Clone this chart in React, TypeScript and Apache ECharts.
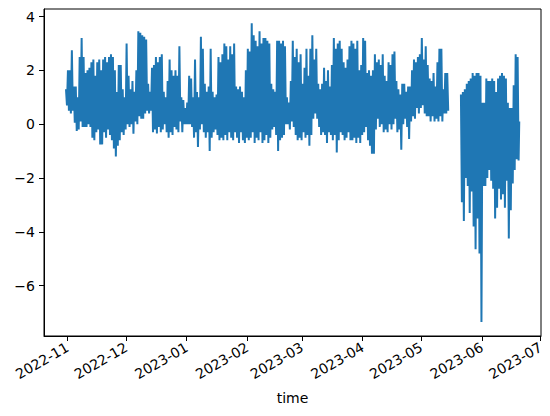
import React, { useEffect, useRef } from "react";
import * as echarts from "echarts";

// Daily envelope, one entry per day starting 2022-10-31.
// null = no data (gap in the record).
const dailyHigh: (number | null)[] = [
  // Oct 31
  1.3,
  // Nov
  2.0, 2.0, 2.75, 1.4, 1.4, 1.0, 2.5, 3.2, 2.5, 1.9,
  2.0, 2.1, 2.3, 2.4, 1.8, 2.3, 2.4, 2.0, 2.4, 2.5,
  2.3, 2.5, 2.6, 2.5, 2.0, 1.2, 2.2, 2.2, 1.3, 1.0,
  // Dec
  3.0, 1.8, 1.3, 1.6, 1.2, 2.0, 3.45, 3.4, 3.3, 3.25,
  3.15, 1.5, 1.2, 2.1, 2.2, 2.5, 2.3, 2.5, 2.6, 1.2,
  1.0, 1.6, 2.4, 2.0, 1.8, 2.0, 1.8, 2.9, 1.0, 0.9,
  0.6,
  // Jan
  0.8, 1.8, 1.7, 1.0, 2.4, 1.2, 1.0, 3.25, 2.8, 1.5,
  1.2, 1.4, 2.8, 1.2, 1.0, 1.1, 2.5, 2.3, 2.6, 3.0,
  2.9, 2.4, 2.9, 2.6, 3.0, 1.4, 1.3, 1.4, 1.2, 1.0,
  2.0,
  // Feb
  2.8, 2.7, 3.75, 3.3, 3.1, 2.9, 3.45, 3.0, 3.2, 3.2,
  3.1, 3.0, 1.5, 1.3, 1.2, 3.1, 3.1, 3.0, 3.1, 2.9,
  1.0, 0.8, 1.6, 3.1, 2.5, 2.8, 2.3, 2.6,
  // Mar
  1.5, 2.1, 2.8, 1.8, 2.8, 3.3, 2.4, 2.8, 1.5, 1.3,
  1.5, 2.1, 1.6, 2.0, 1.4, 2.2, 3.2, 2.8, 3.0, 3.1,
  2.8, 2.3, 2.1, 2.4, 2.9, 3.1, 3.0, 2.8, 3.1, 2.0,
  2.2,
  // Apr
  3.2, 3.1, 1.9, 2.0, 1.8, 2.0, 2.6, 2.3, 2.4, 2.2,
  2.6, 1.8, 1.6, 2.3, 2.2, 2.6, 2.7, 1.6, 1.3, 1.1,
  1.5, 1.5, 1.2, 1.4, 1.4, 2.0, 2.4, 2.3, 2.5, 2.6,
  // May
  3.2, 2.4, 2.9, 2.2, 1.7, 1.6, 1.9, 1.4, 2.3, 2.8,
  2.8, 1.3, 1.9, 1.9, null, null, null, null, null, null,
  1.1, 1.2, 1.3, 1.5, 1.6, 1.7, 1.9, 1.8, 1.9, 1.9,
  1.8,
  // Jun
  0.8, 0.8, 1.7, 1.6, 1.6, 1.7, 1.6, 1.2, 1.7, 1.8,
  1.9, 1.8, 1.7, 0.8, 0.6, 0.6, 1.45, 2.6, 2.5,
];

const dailyLow: (number | null)[] = [
  // Oct 31
  0.7,
  // Nov
  0.5, 0.4, 0.5, 0.05, -0.25, -0.2, 0.1, -0.1, -0.1, -0.1,
  0.0, -0.1, -0.5, -0.6, -0.3, -0.2, -0.75, -0.75, -0.3, -0.5,
  -0.2, -0.4, -0.6, -0.9, -1.2, -0.8, -0.6, -0.3, -0.4, -0.2,
  // Dec
  0.0, -0.1, 0.0, -0.35, 0.1, 0.0, 0.3, 0.2, 0.2, 0.4,
  0.5, 0.4, 0.5, -0.3, -0.2, -0.35, -0.1, -0.3, -0.2, 0.0,
  -0.3, -0.5, -0.3, -0.4, -0.1, -0.2, -0.3, 0.1, -0.3, 0.0,
  0.0,
  // Jan
  0.0, 0.0, -0.1, -0.5, -0.3, -0.85, -0.2, 0.0, -0.3, -0.5,
  -0.3, -1.0, -0.5, -0.3, -0.2, -0.4, -0.6, -0.5, -0.6, -0.4,
  -0.6, -0.3, -0.5, -0.6, -0.3, -0.5, -0.7, -0.3, -0.6, -0.7,
  -0.5,
  // Feb
  -0.6, -0.5, -0.3, -0.7, -0.5, -0.6, -0.3, -0.7, -0.6, -0.4,
  -0.7, -0.5, -0.2, -0.1, -0.4, -1.0, -0.6, -0.5, -0.4, 0.0,
  0.0, -0.2, 0.1, -0.1, -0.4, -0.6, -0.5, -0.6,
  // Mar
  -0.3, -0.5, -0.4, -0.8, -0.4, 0.2, 0.4, 0.2, -0.1, -0.4,
  -0.3, -0.4, -0.7, -0.3, -0.4, -0.6, -0.4, -1.05, -0.6, -0.3,
  -0.4, -0.6, -0.5, -0.3, -0.6, -0.6, -0.5, -0.7, -0.5, -0.7,
  -0.4,
  // Apr
  -0.3, -0.1, -0.6, -0.8, -1.1, -1.1, -0.2, 0.2, -0.1, 0.0,
  -0.3, -0.2, -0.3, 0.0, -0.2, 0.0, 0.2, -0.3, -0.2, -0.95,
  0.0, 0.2, -0.1, -0.55, 0.1, 0.3, 0.2, 0.6, 0.4, 0.6,
  // May
  0.7, 0.4, 0.3, 0.3, 0.1, 0.3, 0.1, 0.2, 0.1, 0.3,
  0.1, 0.4, 0.4, 0.5, null, null, null, null, null, null,
  -2.9, -3.6, -2.0, -2.3, -3.3, -2.5, -3.8, -4.65, -3.5, -4.8,
  -7.35,
  // Jun
  -2.3, -2.3, -2.0, -1.7, -2.1, -2.4, -3.5, -3.1, -2.4, -2.8,
  -2.6, -3.1, -2.1, -4.25, -3.2, -2.2, -1.7, -1.3, -1.35,
];

const lastValue = 0.1;
const yTicks = [-6, -4, -2, 0, 2, 4];
const monthTicks = [
  "2022-11", "2022-12", "2023-01", "2023-02", "2023-03",
  "2023-04", "2023-05", "2023-06", "2023-07",
];

const HOUR = 3600 * 1000;
const DAY = 24 * HOUR;

function monthTs(s: string): number {
  const [y, m] = s.split("-").map(Number);
  return new Date(y, m - 1, 1).getTime();
}

export default function App() {
  const ref = useRef<HTMLDivElement>(null);

  useEffect(() => {
    if (!ref.current) return;
    const chart = echarts.init(ref.current, null, { renderer: "svg" });

    const start = new Date(2022, 9, 31).getTime();
    const data: any[] = [];
    for (let i = 0; i < dailyHigh.length; i++) {
      const t0 = start + i * DAY;
      const hi = dailyHigh[i];
      const lo = dailyLow[i];
      if (hi == null || lo == null) {
        data.push([t0 + 12 * HOUR, "-"]);
      } else {
        data.push([t0 + 6 * HOUR, hi]);
        data.push([t0 + 18 * HOUR, lo]);
      }
    }
    data.push([start + dailyHigh.length * DAY + 2 * HOUR, lastValue]);

    const ticks = monthTicks.map(monthTs);
    const font = "DejaVu Sans";
    const option: any = {
      animation: false,
      backgroundColor: "#ffffff",
      grid: {
        left: 44,
        right: 9,
        top: 9,
        bottom: 80,
        show: true,
        borderColor: "#000",
        borderWidth: 1,
        backgroundColor: "transparent",
      },
      xAxis: {
        type: "value",
        min: new Date(2022, 9, 20).getTime(),
        max: new Date(2023, 6, 1, 5).getTime(),
        name: "time",
        nameLocation: "middle",
        nameGap: 55,
        nameTextStyle: { fontFamily: font, fontSize: 14, color: "#000" },
        axisLine: { show: true, onZero: false, lineStyle: { color: "#000", width: 1 } },
        axisTick: {
          show: true,
          length: 5,
          lineStyle: { color: "#000", width: 1 },
          customValues: ticks,
        },
        axisLabel: {
          customValues: ticks,
          rotate: 30,
          margin: 10,
          fontFamily: font,
          fontSize: 14,
          color: "#000",
          formatter: (v: number) => {
            const d = new Date(v);
            const m = d.getMonth() + 1;
            return d.getFullYear() + "-" + (m < 10 ? "0" + m : "" + m);
          },
        },
        splitLine: { show: false },
      },
      yAxis: {
        type: "value",
        min: -7.87,
        max: 4.28,
        axisLine: { show: true, onZero: false, lineStyle: { color: "#000", width: 1 } },
        axisTick: {
          show: true,
          length: 5,
          lineStyle: { color: "#000", width: 1 },
          customValues: yTicks,
        },
        axisLabel: {
          customValues: yTicks,
          margin: 9,
          fontFamily: font,
          fontSize: 14,
          color: "#000",
          formatter: (v: number) => String(v).replace("-", "\u2212"),
        },
        splitLine: { show: false },
      },
      series: [
        {
          type: "line",
          data,
          showSymbol: false,
          symbol: "none",
          connectNulls: false,
          lineStyle: { color: "#1f77b4", width: 2 },
          itemStyle: { color: "#1f77b4" },
        },
      ],
    };
    chart.setOption(option);
    return () => chart.dispose();
  }, []);

  return (
    <div
      ref={ref}
      style={{ position: "fixed", left: 0, top: 0, width: 550, height: 416, background: "#fff" }}
    />
  );
}
